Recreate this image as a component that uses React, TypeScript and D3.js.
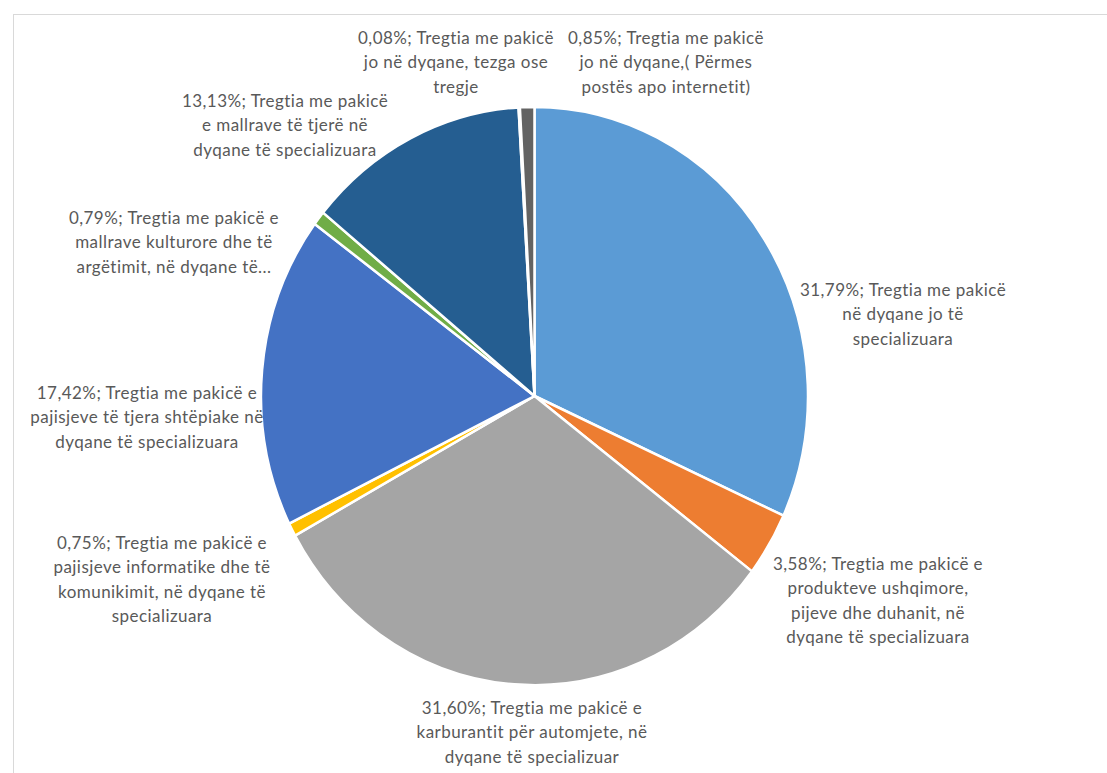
import React, { useEffect, useRef } from "react";
import * as d3 from "d3";

// shares (%) clockwise from 12 o'clock
const values = [31.79, 3.58, 31.6, 0.75, 17.42, 0.79, 13.13, 0.08, 0.85];
const labels = [
  ["31,79%; Tregtia me pakicë", "në dyqane jo të", "specializuara"],
  ["3,58%; Tregtia me pakicë e", "produkteve ushqimore,", "pijeve dhe duhanit, në", "dyqane të specializuara"],
  ["31,60%; Tregtia me pakicë e", "karburantit për automjete, në", "dyqane të specializuar"],
  ["0,75%; Tregtia me pakicë e", "pajisjeve informatike dhe të", "komunikimit, në dyqane të", "specializuara"],
  ["17,42%; Tregtia me pakicë e", "pajisjeve të tjera shtëpiake në", "dyqane të specializuara"],
  ["0,79%; Tregtia me pakicë e", "mallrave kulturore dhe të", "argëtimit, në dyqane të..."],
  ["13,13%; Tregtia me pakicë", "e mallrave të tjerë në", "dyqane të specializuara"],
  ["0,08%; Tregtia me pakicë", "jo në dyqane, tezga ose", "tregje"],
  ["0,85%; Tregtia me pakicë", "jo në dyqane,( Përmes", "postës apo internetit)"],
];
const colors = ["#5B9BD5", "#ED7D31", "#A5A5A5", "#FFC000", "#4472C4", "#70AD47", "#255E91", "#9E480E", "#636363"];

// label block centres (x, y of first line)
const labelPos: [number, number][] = [
  [903, 290], [878, 564], [532, 708], [162, 543], [147, 393],
  [174, 218], [285, 101], [456, 38], [666, 38],
];

export default function App() {
  const svgRef = useRef<SVGSVGElement>(null);

  useEffect(() => {
    if (!svgRef.current) return;
    const width = 1107;
    const height = 773;
    const cx = 534.5;
    const cy = 396;
    const r = 273.5;
    const stretch = 1.057;

    const svg = d3.select(svgRef.current);
    svg.selectAll("*").remove();
    svg.attr("width", width).attr("height", height).attr("viewBox", [0, 0, width, height]);

    svg.append("rect")
      .attr("width", width).attr("height", height).attr("fill", "#fff");

    // chart frame
    svg.append("rect")
      .attr("x", 13.5).attr("y", 14.5)
      .attr("width", width + 20).attr("height", height + 20)
      .attr("fill", "none").attr("stroke", "#D9D9D9").attr("stroke-width", 1);

    const pie = d3.pie<number>().sort(null).value(d => d);
    const arc = d3.arc<d3.PieArcDatum<number>>().innerRadius(0).outerRadius(r);

    svg.append("g")
      .attr("transform", `translate(${cx},${cy}) scale(1,${stretch})`)
      .selectAll("path")
      .data(pie(values))
      .join("path")
      .attr("d", arc)
      .attr("fill", (_, i) => colors[i])
      .attr("stroke", "#fff")
      .attr("stroke-width", 2.5)
      .attr("stroke-linejoin", "round")
      .attr("vector-effect", "non-scaling-stroke");

    const lab = svg.append("g")
      .attr("font-family", "Lato, 'Open Sans', sans-serif")
      .attr("font-size", 17)
      .attr("letter-spacing", 0.45)
      .attr("fill", "#595959")
      .attr("text-anchor", "middle");

    labels.forEach((lines, i) => {
      const [x, y] = labelPos[i];
      const t = lab.append("text");
      lines.forEach((line, j) => {
        t.append("tspan")
          .attr("x", x)
          .attr("y", y + j * 24.5)
          .attr("dy", "0.35em")
          .text(line);
      });
    });
  }, []);

  return (
    <div style={{ position: "absolute", left: 0, top: 0 }}>
      <svg ref={svgRef} style={{ display: "block" }}></svg>
    </div>
  );
}
